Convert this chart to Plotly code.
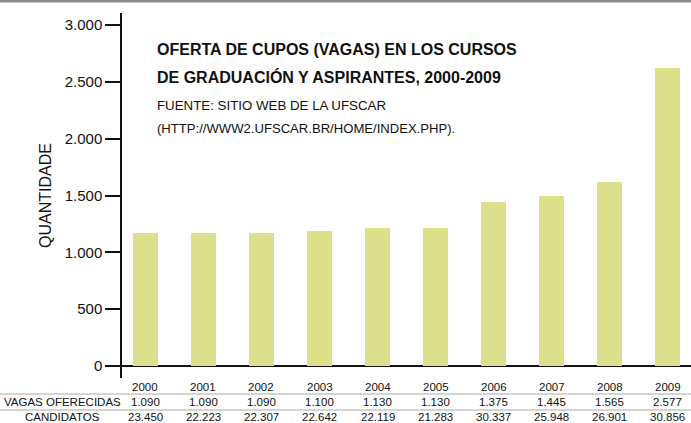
import plotly.graph_objects as go

# ---- data ----
years = [2000, 2001, 2002, 2003, 2004, 2005, 2006, 2007, 2008, 2009]
vagas_oferecidas = [1090, 1090, 1090, 1100, 1130, 1130, 1375, 1445, 1565, 2577]
candidatos = [23450, 22223, 22307, 22642, 22119, 21283, 30337, 25948, 26901, 30856]
# bar heights as drawn in the picture
bar_heights = [1170, 1170, 1170, 1188, 1214, 1214, 1443, 1496, 1619, 2622]
y_ticks = [0, 500, 1000, 1500, 2000, 2500, 3000]

W, H = 691, 423
FONT = "Liberation Sans, Arial, Helvetica, sans-serif"


def fmt(v):
    return f"{v:,}".replace(",", ".")


def px(y):
    return 1 - y / H


fig = go.Figure()
fig.add_trace(go.Bar(
    x=years, y=bar_heights, width=0.43,
    marker=dict(color="#dde08a", line=dict(width=0)),
    hoverinfo="skip", showlegend=False,
))

ann = []
# title & source
ann.append(dict(text="<b>OFERTA DE CUPOS (VAGAS) EN LOS CURSOS</b>", x=155 / W, y=px(50),
                xref="paper", yref="paper", xanchor="left", yanchor="middle", showarrow=False,
                font=dict(family=FONT, size=16, color="#111")))
ann.append(dict(text="<b>DE GRADUACIÓN Y ASPIRANTES, 2000-2009</b>", x=155 / W, y=px(77),
                xref="paper", yref="paper", xanchor="left", yanchor="middle", showarrow=False,
                font=dict(family=FONT, size=16, color="#111")))
ann.append(dict(text="FUENTE: SITIO WEB DE LA UFSCAR", x=155 / W, y=px(105),
                xref="paper", yref="paper", xanchor="left", yanchor="middle", showarrow=False,
                font=dict(family=FONT, size=13.3, color="#111")))
ann.append(dict(text="(HTTP://WWW2.UFSCAR.BR/HOME/INDEX.PHP).", x=155 / W, y=px(128),
                xref="paper", yref="paper", xanchor="left", yanchor="middle", showarrow=False,
                font=dict(family=FONT, size=13.1, color="#111")))

# table rows
for yr, v, c in zip(years, vagas_oferecidas, candidatos):
    for txt, yy in ((str(yr), 387), (fmt(v), 402), (fmt(c), 417)):
        ann.append(dict(text=txt, x=yr, y=px(yy), xref="x", yref="paper",
                        xanchor="center", yanchor="middle", showarrow=False,
                        font=dict(family=FONT, size=11.5, color="#111")))
ann.append(dict(text="VAGAS OFERECIDAS", x=62 / W, y=px(402), xref="paper", yref="paper",
                xanchor="center", yanchor="middle", showarrow=False,
                font=dict(family=FONT, size=11.5, color="#111")))
ann.append(dict(text="CANDIDATOS", x=62 / W, y=px(417), xref="paper", yref="paper",
                xanchor="center", yanchor="middle", showarrow=False,
                font=dict(family=FONT, size=11.5, color="#111")))

shapes = [
    dict(type="line", xref="paper", yref="paper", x0=0, x1=1, y0=px(394), y1=px(394),
         line=dict(color="#aaaaaa", width=1.2)),
    dict(type="line", xref="paper", yref="paper", x0=0, x1=1, y0=px(410), y1=px(410),
         line=dict(color="#aaaaaa", width=1.2)),
    dict(type="rect", xref="paper", yref="paper", x0=0, x1=1, y0=px(0), y1=px(2.5),
         fillcolor="#8c8c8c", line=dict(width=0), layer="above"),
]

fig.update_layout(
    width=W, height=H,
    margin=dict(l=0, r=0, t=0, b=0, autoexpand=False),
    paper_bgcolor="white", plot_bgcolor="white",
    separators=",.",
    font=dict(family=FONT, color="#111"),
    annotations=ann, shapes=shapes,
    bargap=0,
    xaxis=dict(domain=[122 / W, 1], range=[1999.595, 2009.405], showticklabels=False,
               showgrid=False, zeroline=False, showline=False, ticks=""),
    yaxis=dict(domain=[1 - 378 / H, 1 - 13 / H], range=[-106, 3106],
               tickvals=y_ticks, tickformat=",", ticks="outside", ticklen=15,
               tickwidth=1.5, tickcolor="#111", showline=True, linecolor="#111",
               linewidth=1.5, showgrid=False, zeroline=True, zerolinecolor="#111",
               zerolinewidth=1.5, tickfont=dict(family=FONT, size=15, color="#111"),
               title=dict(text="QUANTIDADE", font=dict(family=FONT, size=16, color="#111"),
                          standoff=9),
               automargin=False),
)

fig.write_html("out.html", config={"displayModeBar": False},
               post_script="document.body.style.margin='0';document.body.style.overflow='hidden';")
